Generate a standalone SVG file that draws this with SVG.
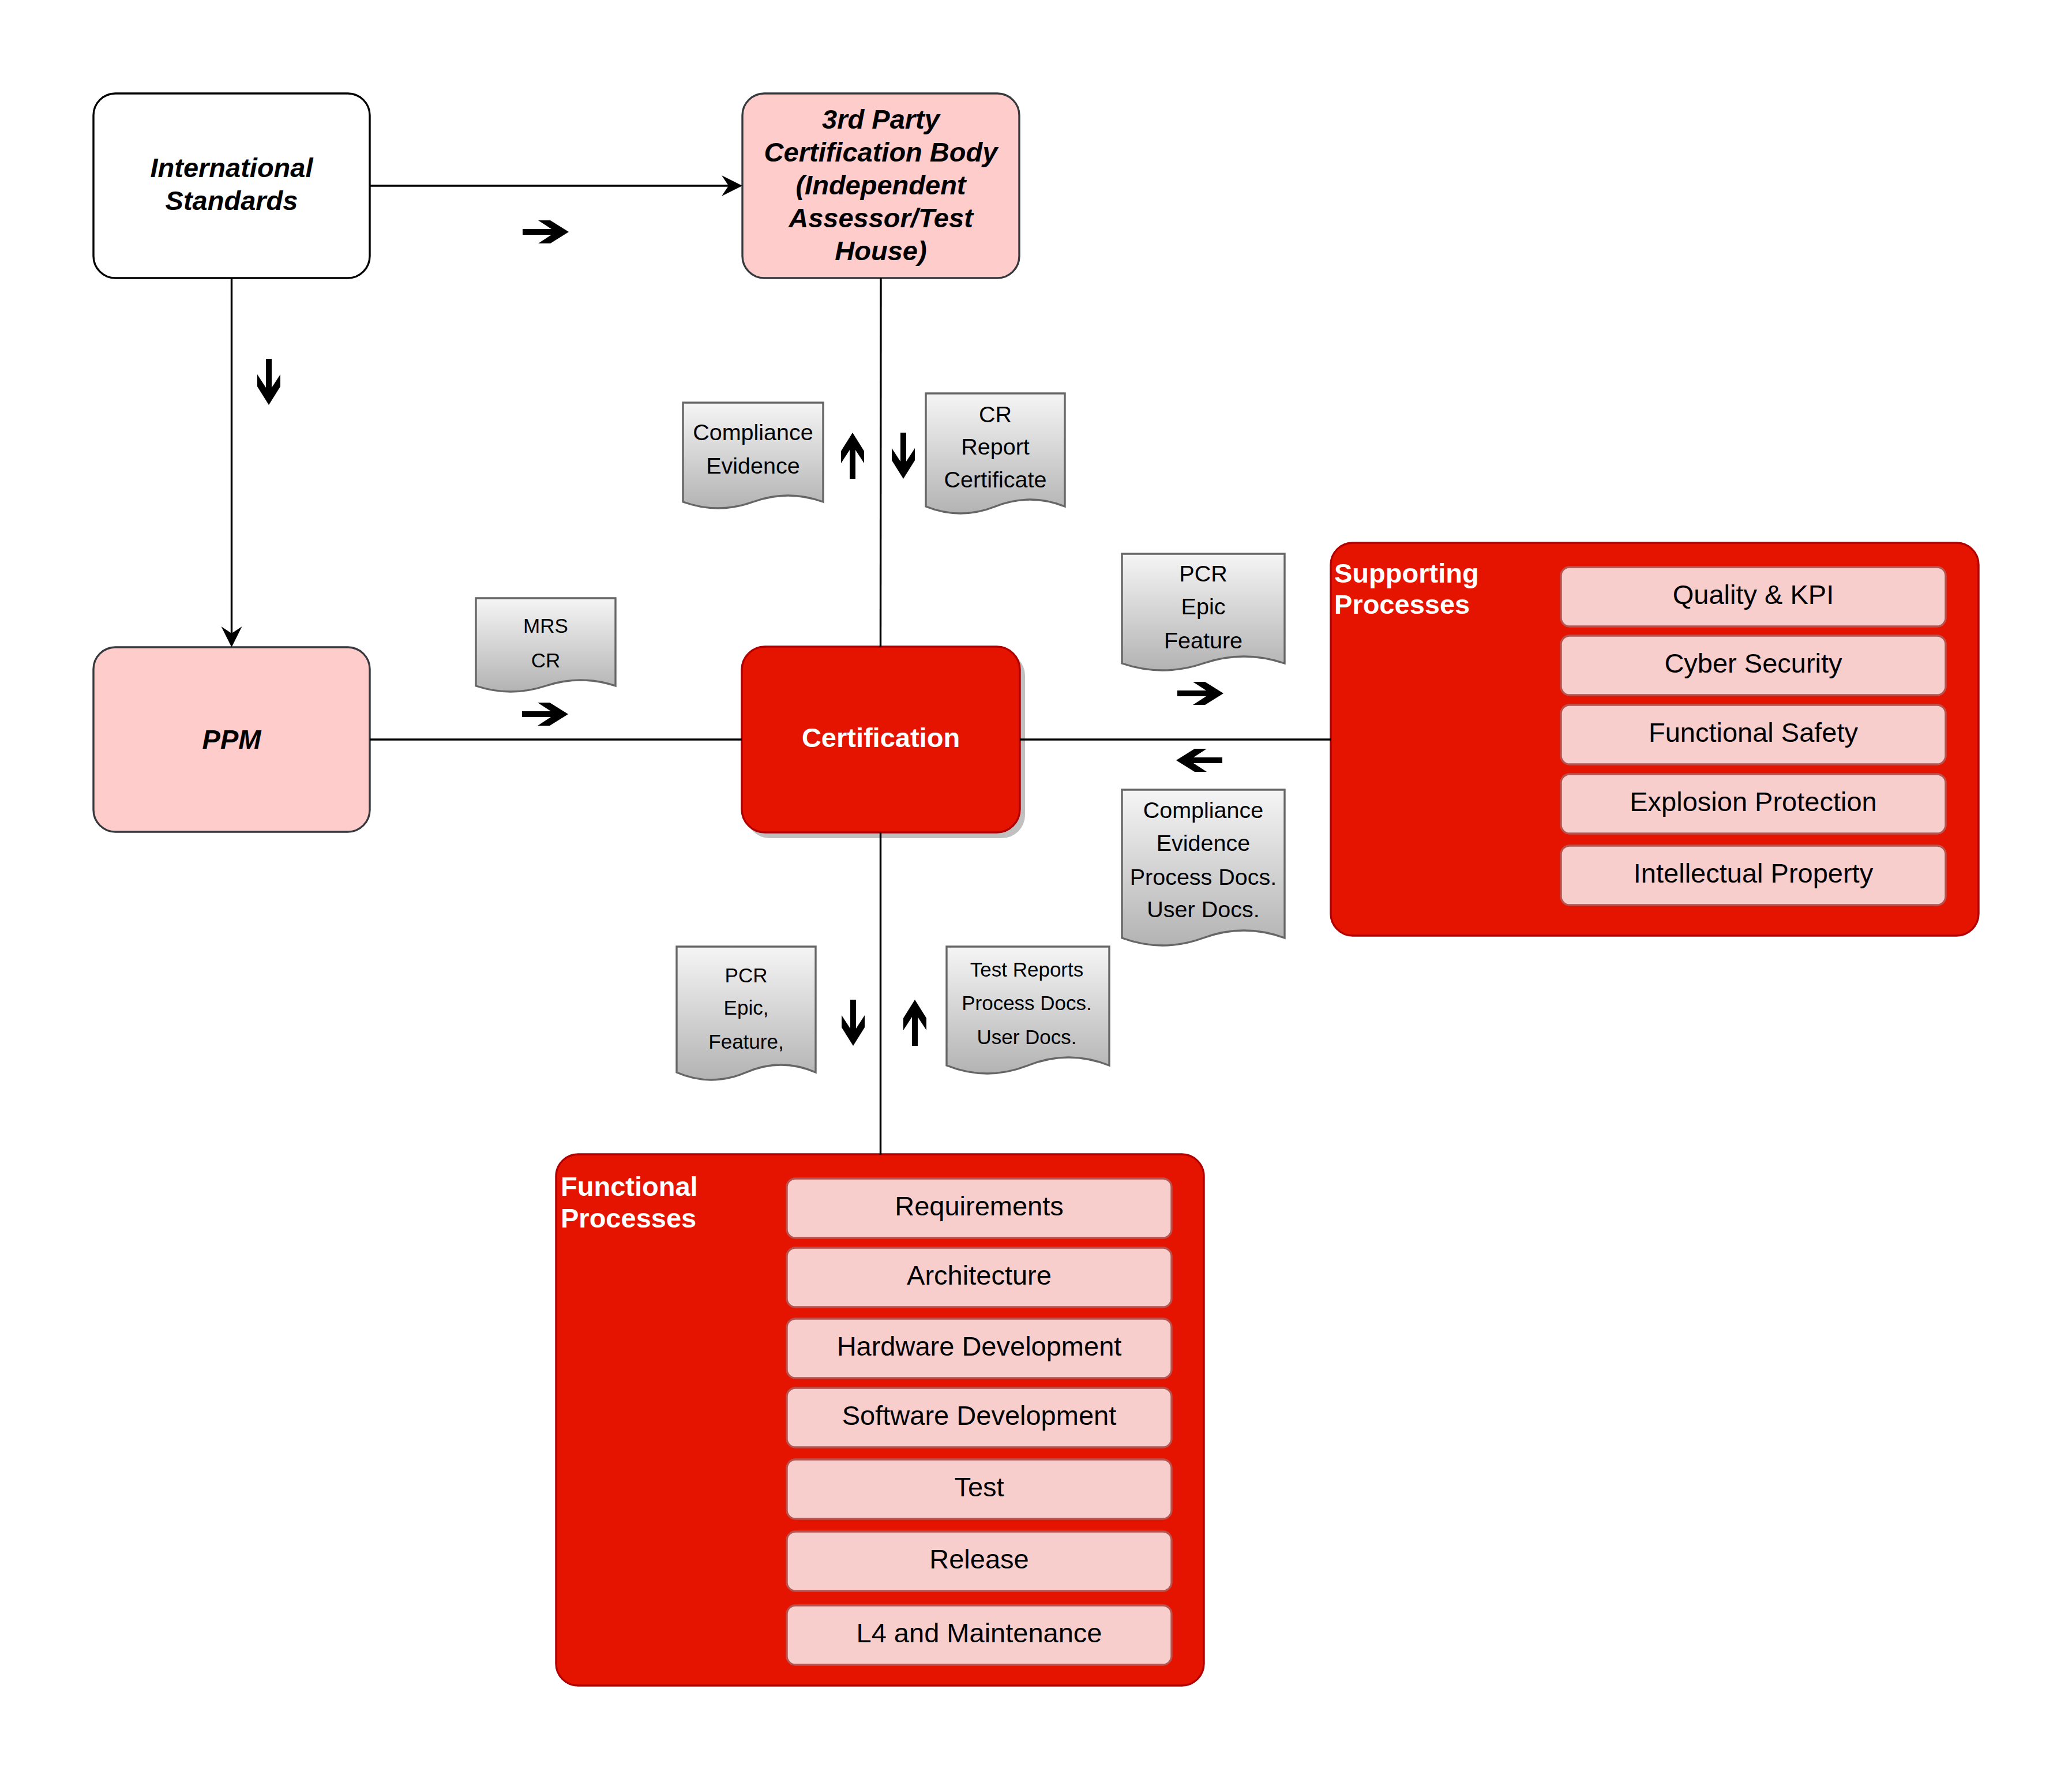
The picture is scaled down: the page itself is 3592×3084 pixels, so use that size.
<svg xmlns="http://www.w3.org/2000/svg" xmlns:xlink="http://www.w3.org/1999/xlink" width="3592" height="3084" viewBox="0 0 3592 3084">
<style>
text{font-family:"Liberation Sans",Arial,sans-serif;}
.bi{font-weight:bold;font-style:italic;font-size:47px;fill:#000;text-anchor:middle;}
.wt{font-weight:bold;font-size:47px;fill:#fff;}
.it{font-size:47px;fill:#000;text-anchor:middle;}
.dt{font-size:39.5px;fill:#000;text-anchor:middle;}
.ds{font-size:35px;fill:#000;text-anchor:middle;}
.doc{fill:url(#docGrad);stroke:#666666;stroke-width:3.4;}
.item{fill:#f8cecc;stroke:#b85450;stroke-width:3.4;}
.cont{fill:#e51400;stroke:#b20000;stroke-width:3.4;}
.conn{fill:none;stroke:#000;stroke-width:3.4;}
.big{fill:#000;}
</style>
<defs>
<linearGradient id="docGrad" x1="0" y1="0" x2="0" y2="1">
<stop offset="0" stop-color="#f5f5f5"/>
<stop offset="1" stop-color="#b3b3b3"/>
</linearGradient>
<marker id="head" markerUnits="userSpaceOnUse" viewBox="-40 -20 42 40" markerWidth="42" markerHeight="40" refX="-10" refY="0" orient="auto">
<path d="M0,0 L-36,-18 L-24,0 L-36,18 Z" fill="#000"/>
</marker>
<path id="bigArrow" d="M0,0 L-32,-20 L-53,-20 L-30,-5 L-80,-5 L-80,5 L-30,5 L-53,20 L-32,20 Z"/>
</defs>
<rect width="3592" height="3084" fill="#fff"/>

<g id="international-standards">
<rect x="162" y="162" width="479" height="320" rx="38" fill="#ffffff" stroke="#000" stroke-width="3.4"/>
<text class="bi"><tspan x="401.5" y="307">International</tspan><tspan x="401.5" y="364">Standards</tspan></text>
</g>

<g id="third-party">
<rect x="1287" y="162" width="480" height="320" rx="38" fill="#ffcccc" stroke="#36393d" stroke-width="3.4"/>
<text class="bi"><tspan x="1527" y="223">3rd Party</tspan><tspan x="1527" y="280">Certification Body</tspan><tspan x="1527" y="337">(Independent</tspan><tspan x="1527" y="394">Assessor/Test</tspan><tspan x="1527" y="451">House)</tspan></text>
</g>

<g id="ppm">
<rect x="162" y="1122" width="479" height="320" rx="38" fill="#ffcccc" stroke="#36393d" stroke-width="3.4"/>
<text class="bi" x="401.5" y="1298">PPM</text>
</g>

<g id="certification">
<rect x="1294" y="1131" width="483" height="322" rx="40" fill="#c0c0c0"/>
<rect x="1286" y="1121" width="482" height="322" rx="40" fill="#e51400" stroke="#b20000" stroke-width="3.4"/>
<text class="wt" x="1527" y="1295" text-anchor="middle">Certification</text>
</g>

<g id="doc-compliance-evidence">
<path class="doc" d="M1184,698 H1427 V870 Q1366,848 1305.5,870 Q1245,892 1184,870 Z"/>
<text class="dt"><tspan x="1305.5" y="763">Compliance</tspan><tspan x="1305.5" y="821">Evidence</tspan></text>
</g>

<g id="doc-cr-report">
<path class="doc" d="M1605,682 H1846 V878 Q1786,854 1725.5,878 Q1665,902 1605,878 Z"/>
<text class="dt"><tspan x="1725.5" y="732">CR</tspan><tspan x="1725.5" y="788">Report</tspan><tspan x="1725.5" y="845">Certificate</tspan></text>
</g>

<g id="doc-mrs-cr">
<path class="doc" d="M825,1037 H1067 V1189 Q1006.5,1169 946,1189 Q885.5,1209 825,1189 Z"/>
<text class="ds"><tspan x="946" y="1097">MRS</tspan><tspan x="946" y="1157">CR</tspan></text>
</g>

<g id="doc-pcr-right">
<path class="doc" d="M1945,960 H2227 V1150 Q2156.5,1126 2086,1150 Q2015.5,1174 1945,1150 Z"/>
<text class="dt"><tspan x="2086" y="1008">PCR</tspan><tspan x="2086" y="1065">Epic</tspan><tspan x="2086" y="1124">Feature</tspan></text>
</g>

<g id="doc-compliance-right">
<path class="doc" d="M1945,1369 H2227 V1626 Q2156.5,1600 2086,1626 Q2015.5,1652 1945,1626 Z"/>
<text class="dt"><tspan x="2086" y="1418">Compliance</tspan><tspan x="2086" y="1475">Evidence</tspan><tspan x="2086" y="1534">Process Docs.</tspan><tspan x="2086" y="1590">User Docs.</tspan></text>
</g>

<g id="doc-pcr-bottom">
<path class="doc" d="M1173,1641 H1414 V1859 Q1354,1833 1293.5,1859 Q1233,1885 1173,1859 Z"/>
<text class="ds"><tspan x="1293.5" y="1703">PCR</tspan><tspan x="1293.5" y="1759">Epic,</tspan><tspan x="1293.5" y="1818">Feature,</tspan></text>
</g>

<g id="doc-test-reports">
<path class="doc" d="M1641,1641 H1923 V1847 Q1852.5,1819 1782,1847 Q1711.5,1875 1641,1847 Z"/>
<text class="ds"><tspan x="1780" y="1693">Test Reports</tspan><tspan x="1780" y="1751">Process Docs.</tspan><tspan x="1780" y="1810">User Docs.</tspan></text>
</g>

<g id="supporting-processes">
<rect class="cont" x="2307" y="941" width="1123" height="681" rx="38"/>
<text class="wt"><tspan x="2313" y="1010">Supporting</tspan><tspan x="2313" y="1064">Processes</tspan></text>
<g id="sp-quality"><rect class="item" x="2706" y="983" width="667" height="103" rx="15"/><text class="it" x="3039.5" y="1047">Quality &amp; KPI</text></g>
<g id="sp-cyber"><rect class="item" x="2706" y="1102" width="667" height="103" rx="15"/><text class="it" x="3039.5" y="1166">Cyber Security</text></g>
<g id="sp-safety"><rect class="item" x="2706" y="1222" width="667" height="103" rx="15"/><text class="it" x="3039.5" y="1286">Functional Safety</text></g>
<g id="sp-explosion"><rect class="item" x="2706" y="1342" width="667" height="103" rx="15"/><text class="it" x="3039.5" y="1406">Explosion Protection</text></g>
<g id="sp-ip"><rect class="item" x="2706" y="1466" width="667" height="103" rx="15"/><text class="it" x="3039.5" y="1530">Intellectual Property</text></g>
</g>

<g id="functional-processes">
<rect class="cont" x="964" y="2001" width="1123" height="921" rx="38"/>
<text class="wt"><tspan x="972" y="2073">Functional</tspan><tspan x="972" y="2128">Processes</tspan></text>
<g id="fp-requirements"><rect class="item" x="1364" y="2043" width="667" height="103" rx="15"/><text class="it" x="1697.5" y="2107">Requirements</text></g>
<g id="fp-architecture"><rect class="item" x="1364" y="2163" width="667" height="103" rx="15"/><text class="it" x="1697.5" y="2227">Architecture</text></g>
<g id="fp-hardware"><rect class="item" x="1364" y="2286" width="667" height="103" rx="15"/><text class="it" x="1697.5" y="2350">Hardware Development</text></g>
<g id="fp-software"><rect class="item" x="1364" y="2406" width="667" height="103" rx="15"/><text class="it" x="1697.5" y="2470">Software Development</text></g>
<g id="fp-test"><rect class="item" x="1364" y="2530" width="667" height="103" rx="15"/><text class="it" x="1697.5" y="2594">Test</text></g>
<g id="fp-release"><rect class="item" x="1364" y="2655" width="667" height="103" rx="15"/><text class="it" x="1697.5" y="2719">Release</text></g>
<g id="fp-l4"><rect class="item" x="1364" y="2783" width="667" height="103" rx="15"/><text class="it" x="1697.5" y="2847">L4 and Maintenance</text></g>
</g>

<g id="connectors">
<path class="conn" d="M641,322 H1277" marker-end="url(#head)"/>
<path class="conn" d="M401.5,482 V1112" marker-end="url(#head)"/>
<path class="conn" d="M641,1282 H1286"/>
<path class="conn" d="M1527,482 L1526.5,1121"/>
<path class="conn" d="M1768,1282 H2307"/>
<path class="conn" d="M1526.5,1443 V2002"/>
</g>

<g id="flow-arrows" class="big">
<use xlink:href="#bigArrow" transform="translate(986,402)"/>
<use xlink:href="#bigArrow" transform="translate(985,1238)"/>
<use xlink:href="#bigArrow" transform="translate(466,702) rotate(90)"/>
<use xlink:href="#bigArrow" transform="translate(1478,750) rotate(-90)"/>
<use xlink:href="#bigArrow" transform="translate(1566,830) rotate(90)"/>
<use xlink:href="#bigArrow" transform="translate(2121,1202)"/>
<use xlink:href="#bigArrow" transform="translate(2039,1318) rotate(180)"/>
<use xlink:href="#bigArrow" transform="translate(1479,1813) rotate(90)"/>
<use xlink:href="#bigArrow" transform="translate(1586,1733) rotate(-90)"/>
</g>
</svg>
